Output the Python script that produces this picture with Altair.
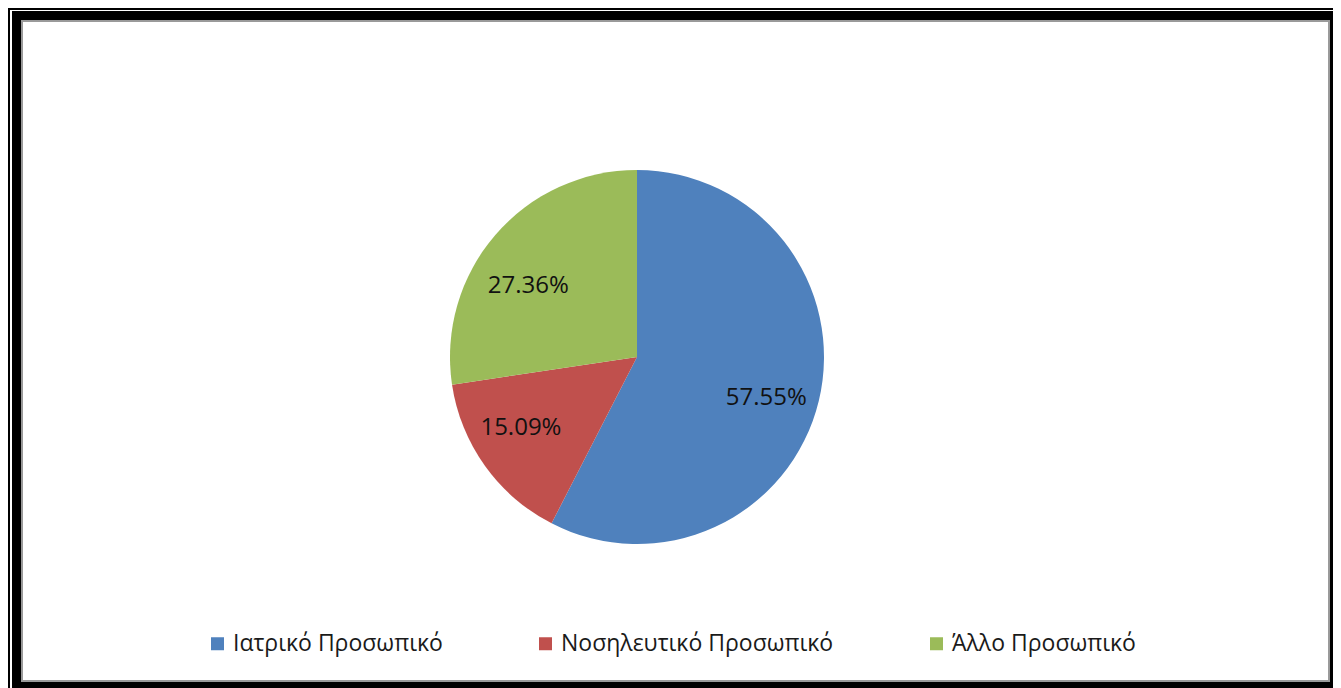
import altair as alt
import pandas as pd

categories = ["Ιατρικό Προσωπικό", "Νοσηλευτικό Προσωπικό", "Άλλο Προσωπικό"]
shares = [57.55, 15.09, 27.36]
labels = ["57.55%", "15.09%", "27.36%"]
colors = ["#4F81BD", "#C0504D", "#9BBB59"]
order = [0, 1, 2]

df = pd.DataFrame({"cat": categories, "share": shares, "label": labels, "ord": order})
one = pd.DataFrame({"k": [0]})

W, H = 1325, 680
CX, CY, R = 629, 349, 187
FONT = "Open Sans"


def box(x, x2, y, y2, fill, stroke=None, sw=0):
    kw = dict(fill=fill, strokeWidth=sw)
    if stroke:
        kw["stroke"] = stroke
    return alt.Chart(one).mark_rect(**kw).encode(
        x=alt.value(x), x2=alt.value(x2), y=alt.value(y), y2=alt.value(y2)
    )


frame = (
    box(0, W, 0, H, "#000000")
    + box(2, W, 2, H, "#ffffff")
    + box(4, W, 3, H, "#000000")
    + box(14, W - 4, 13, H - 7, "#ffffff", "#9a9a9a", 2)
)

pie = alt.Chart(df).mark_arc(outerRadius=R).encode(
    theta=alt.Theta("share:Q", stack=True),
    color=alt.Color(
        "cat:N",
        scale=alt.Scale(domain=categories, range=colors),
        legend=alt.Legend(
            title=None,
            orient="none",
            direction="horizontal",
            legendX=198,
            legendY=624,
            symbolType="square",
            symbolSize=169,
            symbolStrokeWidth=0,
            labelFont=FONT,
            labelFontSize=23,
            labelColor="#1a1a1a",
            labelOffset=4,
            columnPadding=91,
            labelLimit=400,
        ),
    ),
    order=alt.Order("ord:Q"),
    x=alt.value(CX),
    y=alt.value(CY),
)

# label nudges (dx, dy) per slice, to mimic the original label placement
nudges = [(0, 10), (-8, -7), (-8, 16)]


def label_layer(i, dx, dy):
    return alt.Chart(df).mark_text(
        radius=133, font=FONT, fontSize=24, color="#111111", dx=dx, dy=dy
    ).encode(
        theta=alt.Theta("share:Q", stack=True),
        order=alt.Order("ord:Q"),
        text=alt.condition(alt.datum.ord == i, "label:N", alt.value("")),
        x=alt.value(CX),
        y=alt.value(CY),
    )


texts = [label_layer(i, dx, dy) for i, (dx, dy) in enumerate(nudges)]

chart = (
    alt.layer(frame, pie, *texts)
    .properties(width=W, height=H, padding=0, autosize=alt.AutoSizeParams(type="none"))
    .configure_view(stroke=None)
    .configure(background="#ffffff")
)

chart.save("out.html", embed_options={"renderer": "svg", "actions": False})
